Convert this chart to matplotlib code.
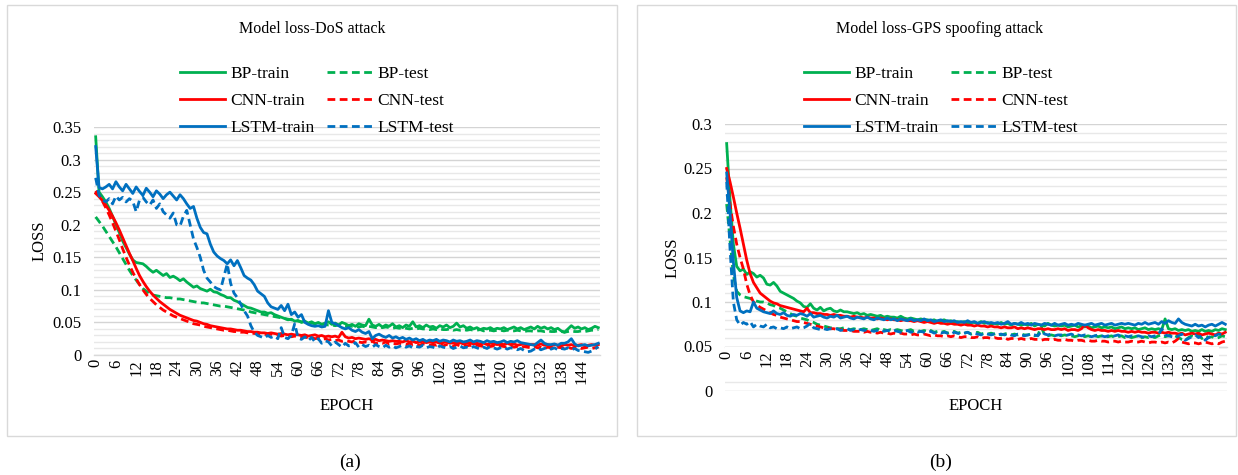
import matplotlib
matplotlib.use('Agg')
import matplotlib.pyplot as plt
from matplotlib.patches import Rectangle
from matplotlib.ticker import FixedLocator, MultipleLocator, FixedFormatter

plt.rcParams['font.family'] = ['Liberation Serif', 'DejaVu Serif']

# ---------------- data ----------------
epochs = list(range(150))
xtick_vals = list(range(0, 150, 6))

titles = ["Model loss-DoS attack", "Model loss-GPS spoofing attack"]
captions = ["(a)", "(b)"]
series_names = ["BP-train", "BP-test", "CNN-train", "CNN-test", "LSTM-train", "LSTM-test"]

# Panel (a): DoS attack
bp_train_a = [
    0.335, 0.250, 0.243, 0.235, 0.225, 0.213, 0.200, 0.188, 0.175, 0.165,
    0.155, 0.146, 0.142, 0.141, 0.140, 0.136, 0.131, 0.127, 0.130, 0.126,
    0.122, 0.125, 0.119, 0.121, 0.118, 0.114, 0.117, 0.112, 0.108, 0.104,
    0.106, 0.102, 0.100, 0.098, 0.101, 0.097, 0.096, 0.093, 0.091, 0.088,
    0.088, 0.084, 0.082, 0.079, 0.076, 0.073, 0.072, 0.070, 0.068, 0.066,
    0.066, 0.064, 0.065, 0.062, 0.060, 0.058, 0.056, 0.054, 0.055, 0.052,
    0.053, 0.050, 0.052, 0.049, 0.051, 0.048, 0.050, 0.047, 0.049, 0.051,
    0.047, 0.049, 0.046, 0.050, 0.048, 0.045, 0.047, 0.044, 0.048, 0.046,
    0.045, 0.055, 0.046, 0.044, 0.047, 0.043, 0.046, 0.044, 0.048, 0.043,
    0.045, 0.042, 0.046, 0.044, 0.051, 0.043, 0.045, 0.042, 0.046, 0.043,
    0.044, 0.041, 0.045, 0.043, 0.046, 0.042, 0.044, 0.049, 0.043, 0.045,
    0.041, 0.043, 0.040, 0.042, 0.039, 0.041, 0.040, 0.042, 0.039, 0.041,
    0.040, 0.042, 0.039, 0.041, 0.043, 0.040, 0.042, 0.039, 0.041, 0.043,
    0.040, 0.044, 0.041, 0.043, 0.040, 0.042, 0.039, 0.041, 0.037, 0.035,
    0.040, 0.045, 0.041, 0.043, 0.040, 0.042, 0.039, 0.041, 0.044, 0.042]
bp_test_a = [
    0.212, 0.205, 0.198, 0.190, 0.182, 0.174, 0.166, 0.157, 0.148, 0.139,
    0.130, 0.122, 0.115, 0.108, 0.102, 0.098, 0.094, 0.092, 0.091, 0.090,
    0.089, 0.088, 0.088, 0.087, 0.086, 0.086, 0.085, 0.084, 0.083, 0.082,
    0.081, 0.080, 0.080, 0.079, 0.078, 0.077, 0.076, 0.075, 0.075, 0.074,
    0.073, 0.072, 0.071, 0.070, 0.069, 0.068, 0.066, 0.065, 0.064, 0.063,
    0.062, 0.061, 0.060, 0.059, 0.058, 0.057, 0.056, 0.055, 0.054, 0.053,
    0.052, 0.051, 0.051, 0.050, 0.049, 0.048, 0.048, 0.047, 0.047, 0.046,
    0.046, 0.045, 0.046, 0.045, 0.044, 0.045, 0.044, 0.044, 0.043, 0.044,
    0.043, 0.044, 0.043, 0.042, 0.043, 0.042, 0.043, 0.042, 0.041, 0.042,
    0.041, 0.042, 0.041, 0.040, 0.041, 0.040, 0.041, 0.040, 0.040, 0.039,
    0.040, 0.039, 0.040, 0.039, 0.039, 0.040, 0.038, 0.039, 0.038, 0.039,
    0.038, 0.039, 0.038, 0.038, 0.039, 0.037, 0.038, 0.038, 0.037, 0.038,
    0.038, 0.037, 0.038, 0.037, 0.037, 0.038, 0.037, 0.036, 0.037, 0.037,
    0.036, 0.037, 0.037, 0.036, 0.037, 0.036, 0.036, 0.037, 0.036, 0.035,
    0.036, 0.037, 0.036, 0.036, 0.037, 0.036, 0.037, 0.038, 0.038, 0.039]
cnn_train_a = [
    0.248, 0.243, 0.237, 0.230, 0.222, 0.213, 0.203, 0.192, 0.180, 0.168,
    0.156, 0.145, 0.133, 0.122, 0.113, 0.105, 0.098, 0.092, 0.087, 0.082,
    0.078, 0.074, 0.070, 0.067, 0.064, 0.061, 0.059, 0.057, 0.055, 0.053,
    0.052, 0.050, 0.048, 0.047, 0.045, 0.044, 0.043, 0.042, 0.041, 0.040,
    0.040, 0.039, 0.038, 0.038, 0.037, 0.036, 0.036, 0.035, 0.035, 0.034,
    0.034, 0.033, 0.034, 0.033, 0.032, 0.033, 0.032, 0.031, 0.032, 0.031,
    0.031, 0.030, 0.031, 0.029, 0.030, 0.031, 0.029, 0.030, 0.028, 0.029,
    0.028, 0.029, 0.027, 0.035, 0.028, 0.026, 0.027, 0.025, 0.026, 0.025,
    0.024, 0.025, 0.023, 0.024, 0.022, 0.023, 0.022, 0.021, 0.022, 0.021,
    0.021, 0.020, 0.022, 0.020, 0.021, 0.019, 0.020, 0.021, 0.019, 0.020,
    0.019, 0.020, 0.018, 0.019, 0.020, 0.018, 0.019, 0.018, 0.019, 0.017,
    0.018, 0.019, 0.017, 0.018, 0.017, 0.018, 0.016, 0.018, 0.017, 0.016,
    0.017, 0.016, 0.018, 0.016, 0.017, 0.015, 0.016, 0.017, 0.015, 0.016,
    0.016, 0.015, 0.017, 0.015, 0.016, 0.014, 0.016, 0.015, 0.014, 0.016,
    0.015, 0.016, 0.014, 0.015, 0.016, 0.014, 0.015, 0.016, 0.015, 0.016]
cnn_test_a = [
    0.252, 0.245, 0.236, 0.226, 0.215, 0.203, 0.190, 0.177, 0.163, 0.150,
    0.138, 0.127, 0.117, 0.108, 0.100, 0.093, 0.087, 0.082, 0.077, 0.073,
    0.069, 0.066, 0.063, 0.060, 0.058, 0.056, 0.054, 0.052, 0.050, 0.048,
    0.047, 0.046, 0.044, 0.043, 0.042, 0.041, 0.040, 0.039, 0.038, 0.038,
    0.037, 0.036, 0.036, 0.035, 0.035, 0.034, 0.034, 0.033, 0.033, 0.032,
    0.032, 0.031, 0.032, 0.030, 0.031, 0.029, 0.030, 0.029, 0.028, 0.029,
    0.028, 0.027, 0.028, 0.026, 0.027, 0.025, 0.026, 0.024, 0.025, 0.023,
    0.024, 0.022, 0.023, 0.021, 0.022, 0.021, 0.020, 0.022, 0.020, 0.019,
    0.020, 0.019, 0.021, 0.018, 0.019, 0.018, 0.020, 0.017, 0.018, 0.017,
    0.018, 0.017, 0.016, 0.018, 0.016, 0.017, 0.015, 0.017, 0.016, 0.015,
    0.016, 0.015, 0.017, 0.014, 0.016, 0.015, 0.014, 0.016, 0.014, 0.015,
    0.014, 0.015, 0.013, 0.015, 0.014, 0.013, 0.015, 0.013, 0.014, 0.012,
    0.014, 0.013, 0.012, 0.014, 0.012, 0.013, 0.011, 0.013, 0.012, 0.011,
    0.013, 0.011, 0.012, 0.010, 0.012, 0.011, 0.010, 0.012, 0.011, 0.010,
    0.012, 0.010, 0.011, 0.012, 0.010, 0.011, 0.012, 0.010, 0.011, 0.012]
lstm_train_a = [
    0.320, 0.257, 0.255, 0.258, 0.262, 0.255, 0.266, 0.258, 0.252, 0.262,
    0.255, 0.248, 0.258, 0.251, 0.245, 0.256, 0.250, 0.243, 0.252, 0.247,
    0.240, 0.246, 0.250, 0.244, 0.238, 0.246, 0.240, 0.232, 0.225, 0.228,
    0.210, 0.196, 0.188, 0.186, 0.170, 0.158, 0.152, 0.148, 0.145, 0.140,
    0.146, 0.137, 0.145, 0.134, 0.122, 0.118, 0.115, 0.108, 0.098, 0.094,
    0.090, 0.080, 0.074, 0.072, 0.070, 0.076, 0.068, 0.078, 0.062, 0.066,
    0.058, 0.062, 0.050, 0.047, 0.045, 0.044, 0.045, 0.043, 0.044, 0.068,
    0.050, 0.048, 0.045, 0.042, 0.040, 0.042, 0.038, 0.036, 0.039, 0.035,
    0.033, 0.036, 0.025, 0.030, 0.032, 0.029, 0.027, 0.030, 0.026, 0.028,
    0.025, 0.027, 0.024, 0.026, 0.023, 0.025, 0.022, 0.024, 0.021, 0.023,
    0.022, 0.024, 0.021, 0.023, 0.022, 0.020, 0.023, 0.021, 0.022, 0.020,
    0.021, 0.023, 0.020, 0.022, 0.021, 0.019, 0.022, 0.020, 0.021, 0.019,
    0.020, 0.022, 0.019, 0.021, 0.020, 0.022, 0.019, 0.018, 0.017, 0.016,
    0.015, 0.019, 0.023, 0.018, 0.016, 0.016, 0.017, 0.015, 0.018, 0.018,
    0.020, 0.025, 0.017, 0.014, 0.015, 0.016, 0.014, 0.015, 0.016, 0.018]
lstm_test_a = [
    0.272, 0.245, 0.238, 0.235, 0.240, 0.232, 0.244, 0.238, 0.242, 0.235,
    0.240, 0.236, 0.220, 0.238, 0.242, 0.235, 0.230, 0.238, 0.225, 0.232,
    0.220, 0.215, 0.210, 0.218, 0.200, 0.198, 0.213, 0.222, 0.200, 0.178,
    0.165, 0.150, 0.130, 0.118, 0.112, 0.105, 0.102, 0.100, 0.120, 0.140,
    0.110, 0.095, 0.088, 0.078, 0.068, 0.060, 0.045, 0.035, 0.030, 0.028,
    0.026, 0.030, 0.027, 0.029, 0.025, 0.042, 0.027, 0.025, 0.030, 0.048,
    0.026, 0.024, 0.028, 0.022, 0.027, 0.020, 0.025, 0.018, 0.022, 0.020,
    0.014, 0.020, 0.016, 0.012, 0.018, 0.014, 0.015, 0.019, 0.012, 0.016,
    0.013, 0.015, 0.012, 0.016, 0.013, 0.011, 0.015, 0.012, 0.014, 0.011,
    0.013, 0.015, 0.012, 0.014, 0.011, 0.013, 0.012, 0.015, 0.011, 0.013,
    0.012, 0.010, 0.014, 0.012, 0.011, 0.013, 0.010, 0.012, 0.014, 0.011,
    0.012, 0.010, 0.013, 0.011, 0.009, 0.012, 0.010, 0.013, 0.011, 0.009,
    0.011, 0.012, 0.009, 0.011, 0.010, 0.008, 0.010, 0.007, 0.005, 0.006,
    0.009, 0.011, 0.008, 0.010, 0.012, 0.009, 0.011, 0.008, 0.010, 0.009,
    0.011, 0.008, 0.010, 0.007, 0.006, 0.005, 0.004, 0.006, 0.009, 0.013]

# Panel (b): GPS spoofing attack
bp_train_b = [
    0.278, 0.215, 0.165, 0.140, 0.135, 0.137, 0.131, 0.134, 0.132, 0.128,
    0.130, 0.127, 0.120, 0.119, 0.122, 0.118, 0.112, 0.110, 0.108, 0.106,
    0.104, 0.101, 0.099, 0.095, 0.094, 0.098, 0.093, 0.091, 0.094, 0.090,
    0.092, 0.093, 0.090, 0.089, 0.091, 0.089, 0.089, 0.088, 0.087, 0.088,
    0.086, 0.087, 0.085, 0.086, 0.085, 0.084, 0.085, 0.083, 0.084, 0.083,
    0.083, 0.082, 0.084, 0.082, 0.081, 0.082, 0.081, 0.080, 0.081, 0.080,
    0.080, 0.079, 0.080, 0.078, 0.079, 0.080, 0.078, 0.079, 0.077, 0.078,
    0.077, 0.078, 0.076, 0.077, 0.077, 0.076, 0.078, 0.076, 0.077, 0.075,
    0.076, 0.075, 0.077, 0.075, 0.076, 0.074, 0.076, 0.075, 0.074, 0.075,
    0.074, 0.076, 0.073, 0.075, 0.074, 0.073, 0.076, 0.074, 0.073, 0.074,
    0.073, 0.074, 0.072, 0.073, 0.074, 0.072, 0.073, 0.072, 0.073, 0.071,
    0.072, 0.073, 0.071, 0.072, 0.071, 0.072, 0.070, 0.071, 0.072, 0.070,
    0.071, 0.070, 0.071, 0.069, 0.070, 0.071, 0.069, 0.070, 0.069, 0.070,
    0.069, 0.081, 0.070, 0.069, 0.070, 0.068, 0.069, 0.068, 0.069, 0.067,
    0.068, 0.067, 0.069, 0.067, 0.068, 0.067, 0.069, 0.068, 0.070, 0.069]
bp_test_b = [
    0.210, 0.170, 0.130, 0.112, 0.108, 0.106, 0.105, 0.104, 0.102, 0.101,
    0.100, 0.100, 0.099, 0.097, 0.096, 0.094, 0.093, 0.091, 0.089, 0.087,
    0.085, 0.084, 0.082, 0.081, 0.080, 0.078, 0.077, 0.075, 0.074, 0.073,
    0.072, 0.071, 0.071, 0.070, 0.070, 0.071, 0.070, 0.069, 0.070, 0.069,
    0.069, 0.070, 0.069, 0.068, 0.069, 0.070, 0.068, 0.069, 0.068, 0.069,
    0.068, 0.069, 0.068, 0.067, 0.068, 0.069, 0.067, 0.068, 0.067, 0.068,
    0.067, 0.068, 0.066, 0.067, 0.066, 0.067, 0.065, 0.066, 0.067, 0.065,
    0.066, 0.065, 0.066, 0.064, 0.065, 0.066, 0.064, 0.065, 0.064, 0.065,
    0.064, 0.065, 0.063, 0.064, 0.065, 0.063, 0.064, 0.063, 0.064, 0.063,
    0.063, 0.064, 0.062, 0.063, 0.072, 0.063, 0.062, 0.063, 0.062, 0.063,
    0.062, 0.063, 0.062, 0.062, 0.061, 0.062, 0.063, 0.061, 0.062, 0.061,
    0.062, 0.061, 0.062, 0.061, 0.061, 0.062, 0.060, 0.061, 0.062, 0.060,
    0.061, 0.060, 0.061, 0.062, 0.060, 0.061, 0.060, 0.061, 0.060, 0.062,
    0.063, 0.061, 0.062, 0.064, 0.062, 0.060, 0.058, 0.057, 0.060, 0.062,
    0.061, 0.063, 0.059, 0.062, 0.060, 0.061, 0.059, 0.060, 0.062, 0.061]
cnn_train_b = [
    0.250, 0.235, 0.218, 0.200, 0.183, 0.165, 0.147, 0.132, 0.122, 0.116,
    0.110, 0.107, 0.104, 0.101, 0.099, 0.098, 0.096, 0.095, 0.094, 0.093,
    0.092, 0.091, 0.090, 0.089, 0.093, 0.088, 0.088, 0.087, 0.087, 0.086,
    0.086, 0.085, 0.086, 0.085, 0.085, 0.084, 0.084, 0.083, 0.084, 0.083,
    0.083, 0.082, 0.083, 0.082, 0.082, 0.081, 0.082, 0.081, 0.080, 0.081,
    0.080, 0.080, 0.079, 0.080, 0.079, 0.079, 0.078, 0.079, 0.078, 0.077,
    0.078, 0.077, 0.076, 0.077, 0.076, 0.076, 0.075, 0.076, 0.075, 0.075,
    0.074, 0.075, 0.074, 0.074, 0.073, 0.074, 0.073, 0.073, 0.072, 0.073,
    0.072, 0.072, 0.071, 0.072, 0.071, 0.071, 0.072, 0.070, 0.071, 0.070,
    0.071, 0.070, 0.069, 0.070, 0.070, 0.069, 0.070, 0.069, 0.069, 0.070,
    0.069, 0.070, 0.068, 0.069, 0.069, 0.068, 0.070, 0.074, 0.071, 0.069,
    0.068, 0.069, 0.068, 0.068, 0.067, 0.068, 0.067, 0.068, 0.067, 0.067,
    0.066, 0.067, 0.066, 0.067, 0.066, 0.066, 0.065, 0.066, 0.066, 0.065,
    0.066, 0.065, 0.066, 0.065, 0.065, 0.064, 0.065, 0.063, 0.064, 0.065,
    0.064, 0.065, 0.063, 0.064, 0.065, 0.064, 0.063, 0.065, 0.064, 0.066]
cnn_test_b = [
    0.240, 0.210, 0.185, 0.165, 0.150, 0.137, 0.120, 0.108, 0.100, 0.097,
    0.094, 0.092, 0.090, 0.088, 0.086, 0.085, 0.083, 0.082, 0.081, 0.080,
    0.079, 0.078, 0.078, 0.077, 0.076, 0.075, 0.074, 0.073, 0.072, 0.071,
    0.071, 0.070, 0.070, 0.069, 0.069, 0.068, 0.068, 0.068, 0.067, 0.067,
    0.067, 0.066, 0.067, 0.066, 0.066, 0.065, 0.066, 0.065, 0.065, 0.064,
    0.065, 0.064, 0.065, 0.064, 0.064, 0.063, 0.064, 0.063, 0.063, 0.064,
    0.063, 0.062, 0.063, 0.062, 0.062, 0.061, 0.062, 0.061, 0.062, 0.061,
    0.060, 0.061, 0.061, 0.060, 0.060, 0.061, 0.059, 0.060, 0.060, 0.059,
    0.060, 0.059, 0.059, 0.060, 0.058, 0.059, 0.059, 0.058, 0.059, 0.058,
    0.058, 0.059, 0.058, 0.058, 0.057, 0.058, 0.058, 0.057, 0.058, 0.057,
    0.057, 0.058, 0.057, 0.057, 0.056, 0.057, 0.057, 0.056, 0.057, 0.056,
    0.056, 0.057, 0.056, 0.056, 0.055, 0.056, 0.056, 0.055, 0.056, 0.055,
    0.055, 0.056, 0.055, 0.055, 0.056, 0.055, 0.054, 0.055, 0.055, 0.054,
    0.055, 0.054, 0.055, 0.054, 0.056, 0.059, 0.055, 0.054, 0.053, 0.054,
    0.054, 0.053, 0.054, 0.055, 0.054, 0.053, 0.054, 0.053, 0.055, 0.056]
lstm_train_b = [
    0.245, 0.200, 0.145, 0.105, 0.090, 0.088, 0.090, 0.089, 0.100, 0.093,
    0.091, 0.089, 0.088, 0.087, 0.090, 0.087, 0.086, 0.088, 0.085, 0.084,
    0.086, 0.085, 0.087, 0.086, 0.084, 0.087, 0.083, 0.084, 0.085, 0.083,
    0.082, 0.084, 0.083, 0.085, 0.082, 0.083, 0.084, 0.082, 0.081, 0.083,
    0.082, 0.081, 0.083, 0.081, 0.080, 0.082, 0.081, 0.080, 0.082, 0.080,
    0.081, 0.079, 0.081, 0.080, 0.079, 0.081, 0.079, 0.080, 0.079, 0.081,
    0.079, 0.080, 0.078, 0.079, 0.080, 0.078, 0.079, 0.078, 0.079, 0.077,
    0.078, 0.077, 0.079, 0.077, 0.078, 0.076, 0.077, 0.078, 0.076, 0.077,
    0.076, 0.077, 0.075, 0.076, 0.078, 0.075, 0.076, 0.075, 0.077, 0.075,
    0.076, 0.074, 0.076, 0.075, 0.074, 0.076, 0.075, 0.074, 0.076, 0.074,
    0.075, 0.076, 0.074, 0.075, 0.074, 0.076, 0.075, 0.074, 0.075, 0.076,
    0.074, 0.075, 0.076, 0.074, 0.075, 0.076, 0.074, 0.075, 0.076, 0.075,
    0.076, 0.075, 0.074, 0.076, 0.075, 0.077, 0.075, 0.076, 0.077, 0.075,
    0.078, 0.076, 0.079, 0.077, 0.076, 0.081, 0.077, 0.075, 0.074, 0.073,
    0.075, 0.073, 0.074, 0.072, 0.074, 0.075, 0.073, 0.075, 0.077, 0.075]
lstm_test_b = [
    0.235, 0.160, 0.100, 0.080, 0.074, 0.077, 0.075, 0.078, 0.072, 0.075,
    0.073, 0.072, 0.075, 0.071, 0.072, 0.070, 0.071, 0.070, 0.072, 0.070,
    0.071, 0.072, 0.070, 0.071, 0.073, 0.076, 0.071, 0.070, 0.069, 0.070,
    0.069, 0.070, 0.069, 0.070, 0.068, 0.069, 0.070, 0.068, 0.069, 0.068,
    0.069, 0.068, 0.069, 0.068, 0.067, 0.068, 0.069, 0.067, 0.068, 0.067,
    0.068, 0.067, 0.066, 0.067, 0.068, 0.066, 0.067, 0.066, 0.067, 0.066,
    0.066, 0.067, 0.065, 0.066, 0.065, 0.066, 0.065, 0.064, 0.066, 0.065,
    0.064, 0.065, 0.066, 0.064, 0.065, 0.064, 0.063, 0.065, 0.064, 0.063,
    0.064, 0.063, 0.064, 0.063, 0.064, 0.063, 0.062, 0.064, 0.063, 0.062,
    0.063, 0.064, 0.063, 0.062, 0.067, 0.064, 0.063, 0.064, 0.062, 0.063,
    0.063, 0.062, 0.063, 0.064, 0.062, 0.063, 0.062, 0.063, 0.062, 0.061,
    0.062, 0.063, 0.062, 0.061, 0.062, 0.061, 0.062, 0.063, 0.061, 0.062,
    0.061, 0.062, 0.061, 0.062, 0.061, 0.060, 0.062, 0.061, 0.062, 0.063,
    0.070, 0.063, 0.062, 0.061, 0.060, 0.062, 0.064, 0.057, 0.059, 0.061,
    0.063, 0.060, 0.062, 0.057, 0.060, 0.063, 0.062, 0.064, 0.063, 0.065]

panel_series = [
    [bp_train_a, bp_test_a, cnn_train_a, cnn_test_a, lstm_train_a, lstm_test_a],
    [bp_train_b, bp_test_b, cnn_train_b, cnn_test_b, lstm_train_b, lstm_test_b],
]

# ---------------- styling ----------------
GREEN, RED, BLUE = '#00B050', '#FF0000', '#0070C0'
colors = [GREEN, GREEN, RED, RED, BLUE, BLUE]
DASH = (0, (2.8, 1.6))
styles = ['-', DASH, '-', DASH, '-', DASH]
LW = 2.0
GRID_MAJ = '#d4d4d4'
GRID_MIN = '#e8e8e8'

W, H = 1238, 475
fig = plt.figure(figsize=(W / 100, H / 100), dpi=100)

def fx(px):
    return px / W

def fy(py):
    return 1 - py / H

panels = [
    dict(box=(7, 5, 617, 436), ax=(94, 600, 127, 355), ymax=0.35, cross=0.0,
         title_xy=(312, 29), leg_xy=(180, 66), epoch_xy=(347, 406), loss_xy=(40, 241),
         cap_xy=(350, 462)),
    dict(box=(637, 5, 1236, 436), ax=(725, 1227, 124, 391), ymax=0.30, cross=0.05,
         title_xy=(940, 29), leg_xy=(804, 66), epoch_xy=(976, 406), loss_xy=(673, 258),
         cap_xy=(941, 462)),
]

for p, series, title, cap in zip(panels, panel_series, titles, captions):
    x0, y0, x1, y1 = p['box']
    fig.patches.append(Rectangle((fx(x0), fy(y1)), (x1 - x0) / W, (y1 - y0) / H,
                                 transform=fig.transFigure, fill=False,
                                 edgecolor='#d9d9d9', linewidth=1.0, zorder=0))
    l, r, t, b = p['ax']
    ax = fig.add_axes([fx(l), fy(b), (r - l) / W, (b - t) / H])
    ax.set_xlim(-0.5, 149.5)
    ax.set_ylim(0, p['ymax'])

    handles = []
    for data, name, c, ls in zip(series, series_names, colors, styles):
        ln, = ax.plot(epochs, data, color=c, linestyle=ls, linewidth=LW, label=name,
                      solid_joinstyle='round', zorder=3)
        handles.append(ln)

    yt = [round(i * 0.05, 2) for i in range(int(round(p['ymax'] / 0.05)) + 1)]
    ax.yaxis.set_major_locator(FixedLocator(yt))
    ax.yaxis.set_major_formatter(FixedFormatter(['%g' % v for v in yt]))
    ax.yaxis.set_minor_locator(MultipleLocator(0.01))
    ax.grid(axis='y', which='major', color=GRID_MAJ, linewidth=1.0)
    ax.grid(axis='y', which='minor', color=GRID_MIN, linewidth=1.0)
    ax.grid(axis='x', which='both', visible=False)
    ax.yaxis.set_zorder(0.5)
    ax.xaxis.set_zorder(2.5)

    ax.xaxis.set_major_locator(FixedLocator(xtick_vals))
    ax.xaxis.set_major_formatter(FixedFormatter([str(v) for v in xtick_vals]))
    ax.tick_params(axis='x', which='both', length=0, labelrotation=90, labelsize=12, pad=3)
    ax.tick_params(axis='y', which='both', length=0, labelsize=12, pad=9)

    for s in ['top', 'right', 'left']:
        ax.spines[s].set_visible(False)
    ax.spines['bottom'].set_color('#d9d9d9')
    ax.spines['bottom'].set_linewidth(1.0)
    ax.spines['bottom'].set_position(('data', p['cross']))
    ax.spines['bottom'].set_zorder(0.6)

    if p['cross'] > 0:
        # blank band behind the category labels (as in the source)
        ax.add_patch(Rectangle((-0.5, 0.0145), 147.5, p['cross'] - 0.0155,
                               facecolor='white', edgecolor='none', zorder=1))

    order = [0, 2, 4, 1, 3, 5]
    fig.legend([handles[i] for i in order], [series_names[i] for i in order],
               ncol=2, loc='upper left', bbox_to_anchor=(fx(p['leg_xy'][0]), fy(p['leg_xy'][1])),
               bbox_transform=fig.transFigure, frameon=False, fontsize=12.5,
               handlelength=2.6, handletextpad=0.3, labelspacing=0.62,
               columnspacing=0.7, borderpad=0, borderaxespad=0)

    fig.text(fx(p['title_xy'][0]), fy(p['title_xy'][1]), title, ha='center', va='center',
             fontsize=11.5)
    fig.text(fx(p['epoch_xy'][0]), fy(p['epoch_xy'][1]), 'EPOCH', ha='center', va='center',
             fontsize=12)
    fig.text(fx(p['loss_xy'][0]), fy(p['loss_xy'][1]), 'LOSS', ha='center', va='center',
             rotation=90, fontsize=12)
    fig.text(fx(p['cap_xy'][0]), fy(p['cap_xy'][1]), cap, ha='center', va='center',
             fontsize=14)

fig.savefig('out.png', dpi=100, facecolor='white')
